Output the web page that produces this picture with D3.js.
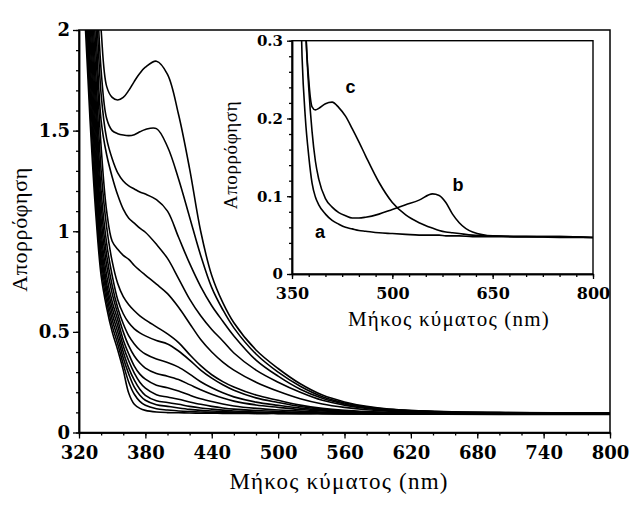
<!DOCTYPE html>
<html><head><meta charset="utf-8">
<script src="https://cdn.jsdelivr.net/npm/d3@7"></script>
<style>body{margin:0;background:#fff}svg{display:block}</style>
</head><body>
<svg id="chart" width="635" height="512"></svg>
<script>
// ---------- main chart data ----------
const wavelengths = [320, 325, 330, 335, 340, 345, 350, 355, 360, 365, 370, 375, 380, 390, 400, 410, 420, 430, 440, 450, 460, 480, 500, 520, 540, 560, 580, 600, 650, 700, 750, 800];

const curve01 = [2.7, 2.1, 1.55, 1.1, 0.78, 0.62, 0.5, 0.41, 0.31, 0.195, 0.14, 0.12, 0.11, 0.102, 0.099, 0.098, 0.097, 0.096, 0.096, 0.095, 0.095, 0.094, 0.094, 0.093, 0.093, 0.092, 0.092, 0.091, 0.091, 0.09, 0.09, 0.09];
const curve02 = [2.8, 2.2, 1.62, 1.16, 0.82, 0.65, 0.53, 0.44, 0.34, 0.25, 0.19, 0.155, 0.135, 0.118, 0.112, 0.107, 0.104, 0.102, 0.1, 0.099, 0.098, 0.096, 0.095, 0.094, 0.094, 0.093, 0.093, 0.092, 0.092, 0.091, 0.091, 0.091];
const curve03 = [2.9, 2.3, 1.7, 1.22, 0.86, 0.68, 0.56, 0.47, 0.37, 0.29, 0.225, 0.185, 0.16, 0.138, 0.13, 0.122, 0.115, 0.11, 0.107, 0.104, 0.102, 0.099, 0.097, 0.096, 0.095, 0.094, 0.094, 0.093, 0.092, 0.092, 0.091, 0.091];
const curve04 = [3.0, 2.4, 1.78, 1.29, 0.9, 0.71, 0.59, 0.5, 0.4, 0.32, 0.26, 0.215, 0.185, 0.158, 0.149, 0.14, 0.13, 0.122, 0.116, 0.111, 0.107, 0.102, 0.099, 0.097, 0.096, 0.095, 0.094, 0.093, 0.093, 0.092, 0.092, 0.091];
const curve05 = [3.1, 2.5, 1.86, 1.36, 0.95, 0.74, 0.62, 0.53, 0.43, 0.355, 0.295, 0.25, 0.22, 0.188, 0.176, 0.165, 0.152, 0.14, 0.13, 0.122, 0.116, 0.109, 0.104, 0.1, 0.098, 0.096, 0.095, 0.094, 0.093, 0.093, 0.092, 0.092];
const curve06 = [3.2, 2.6, 1.95, 1.44, 1.0, 0.78, 0.65, 0.56, 0.46, 0.39, 0.33, 0.29, 0.265, 0.235, 0.222, 0.206, 0.186, 0.168, 0.154, 0.142, 0.132, 0.12, 0.112, 0.106, 0.101, 0.098, 0.096, 0.095, 0.094, 0.093, 0.093, 0.092];
const curve07 = [3.3, 2.7, 2.04, 1.52, 1.06, 0.83, 0.69, 0.59, 0.5, 0.43, 0.38, 0.345, 0.32, 0.293, 0.28, 0.263, 0.238, 0.212, 0.19, 0.171, 0.156, 0.137, 0.125, 0.114, 0.107, 0.102, 0.099, 0.097, 0.095, 0.094, 0.093, 0.093];
const curve08 = [3.4, 2.8, 2.14, 1.61, 1.13, 0.88, 0.73, 0.62, 0.54, 0.48, 0.44, 0.41, 0.39, 0.365, 0.348, 0.325, 0.29, 0.252, 0.222, 0.197, 0.177, 0.151, 0.135, 0.121, 0.111, 0.104, 0.1, 0.098, 0.096, 0.095, 0.094, 0.093];
const curve09 = [3.5, 2.9, 2.24, 1.7, 1.2, 0.94, 0.78, 0.66, 0.59, 0.545, 0.515, 0.495, 0.48, 0.457, 0.44, 0.405, 0.36, 0.31, 0.27, 0.237, 0.21, 0.172, 0.149, 0.129, 0.115, 0.107, 0.102, 0.099, 0.097, 0.095, 0.094, 0.094];
const curve10 = [3.6, 3.0, 2.35, 1.8, 1.3, 1.02, 0.85, 0.74, 0.675, 0.635, 0.605, 0.58, 0.56, 0.525, 0.49, 0.447, 0.387, 0.332, 0.287, 0.253, 0.226, 0.186, 0.16, 0.136, 0.12, 0.11, 0.104, 0.1, 0.097, 0.096, 0.095, 0.094];
const curve11 = [3.7, 3.1, 2.46, 1.92, 1.42, 1.1, 0.95, 0.91, 0.88, 0.86, 0.83, 0.805, 0.782, 0.737, 0.69, 0.622, 0.542, 0.462, 0.4, 0.35, 0.31, 0.25, 0.205, 0.168, 0.142, 0.125, 0.113, 0.106, 0.099, 0.097, 0.095, 0.094];
const curve12 = [3.8, 3.2, 2.58, 2.05, 1.55, 1.38, 1.27, 1.18, 1.11, 1.065, 1.04, 1.015, 0.995, 0.935, 0.865, 0.765, 0.663, 0.58, 0.512, 0.455, 0.395, 0.31, 0.25, 0.2, 0.16, 0.136, 0.12, 0.11, 0.101, 0.098, 0.096, 0.095];
const curve13 = [3.9, 3.3, 2.7, 2.2, 1.68, 1.46, 1.36, 1.29, 1.25, 1.225, 1.21, 1.195, 1.185, 1.157, 1.1, 0.97, 0.84, 0.725, 0.63, 0.553, 0.48, 0.36, 0.28, 0.215, 0.17, 0.142, 0.124, 0.113, 0.102, 0.098, 0.097, 0.096];
const curve14 = [4.0, 3.45, 2.85, 2.35, 1.8, 1.56, 1.5, 1.485, 1.478, 1.475, 1.48, 1.494, 1.506, 1.51, 1.42, 1.26, 1.07, 0.88, 0.72, 0.61, 0.52, 0.39, 0.3, 0.23, 0.178, 0.147, 0.127, 0.115, 0.103, 0.099, 0.097, 0.096];
const curve15 = [4.2, 3.6, 3.0, 2.5, 2.0, 1.72, 1.665, 1.652, 1.665, 1.7, 1.745, 1.785, 1.815, 1.845, 1.78, 1.58, 1.31, 1.0, 0.78, 0.645, 0.545, 0.41, 0.318, 0.242, 0.186, 0.152, 0.13, 0.117, 0.104, 0.1, 0.098, 0.097];
const mainSeries = [curve01, curve02, curve03, curve04, curve05, curve06, curve07, curve08, curve09, curve10, curve11, curve12, curve13, curve14, curve15];

const mainXTicks = [320, 380, 440, 500, 560, 620, 680, 740, 800];
const mainYTicks = [0, 0.5, 1, 1.5, 2];
const mainYTickLabels = ["0", "0.5", "1", "1.5", "2"];

// ---------- inset data ----------
const insetWavelengths = [350, 360, 365, 370, 375, 380, 385, 390, 400, 410, 420, 430, 440, 450, 460, 480, 500, 520, 540, 560, 570, 580, 590, 600, 620, 650, 700, 750, 800];
const insetA = [1.0, 0.45, 0.28, 0.2, 0.152, 0.117, 0.099, 0.089, 0.077, 0.069, 0.064, 0.06, 0.058, 0.056, 0.055, 0.053, 0.052, 0.051, 0.05, 0.05, 0.05, 0.049, 0.049, 0.049, 0.048, 0.048, 0.048, 0.047, 0.047];
const insetB = [2.0, 0.9, 0.55, 0.33, 0.24, 0.183, 0.145, 0.122, 0.097, 0.086, 0.079, 0.075, 0.072, 0.072, 0.073, 0.077, 0.083, 0.089, 0.095, 0.103, 0.101, 0.092, 0.077, 0.066, 0.054, 0.049, 0.048, 0.048, 0.047];
const insetC = [2.0, 0.9, 0.55, 0.33, 0.25, 0.215, 0.211, 0.213, 0.219, 0.221, 0.214, 0.203, 0.187, 0.17, 0.152, 0.118, 0.092, 0.076, 0.066, 0.059, 0.056, 0.054, 0.053, 0.052, 0.05, 0.049, 0.048, 0.048, 0.047];
const insetSeries = [insetA, insetB, insetC];
const insetLabels = ["a", "b", "c"];
const insetLabelAt = [[392, 0.046], [598, 0.107], [437.5, 0.233]]; // [wavelength, absorbance] of the letters

const insetXTicks = [350, 500, 650, 800];
const insetYTicks = [0, 0.1, 0.2, 0.3];
const insetYTickLabels = ["0", "0.1", "0.2", "0.3"];

const yTitle = "Απορρόφηση";
const xTitle = "Μήκος κύματος (nm)";

// ---------- drawing ----------
const svg = d3.select("#chart");
const tickFont = "'DejaVu Serif', serif";
const titleFont = "'Liberation Serif', 'Times New Roman', serif";

const x = d3.scaleLinear().domain([320, 800]).range([79, 610]);
const y = d3.scaleLinear().domain([0, 2]).range([432.5, 30]);

const defs = svg.append("defs");
defs.append("clipPath").attr("id", "mainClip").append("rect")
  .attr("x", x(320)).attr("y", y(2)).attr("width", x(800) - x(320)).attr("height", y(0) - y(2));

const mainLine = d3.line()
  .x((d, i) => x(wavelengths[i]))
  .y(d => y(d))
  .curve(d3.curveCatmullRom.alpha(0.5));

svg.append("g").attr("clip-path", "url(#mainClip)")
  .selectAll("path").data(mainSeries).join("path")
  .attr("d", mainLine).attr("fill", "none").attr("stroke", "#000")
  .attr("stroke-width", 1.6).attr("stroke-linejoin", "round");

// frame
svg.append("rect").attr("x", x(320)).attr("y", y(2))
  .attr("width", x(800) - x(320)).attr("height", y(0) - y(2))
  .attr("fill", "none").attr("stroke", "#000").attr("stroke-width", 1.5);

function styleAxis(g, size) {
  g.selectAll("path.domain").attr("stroke", "#000").attr("stroke-width", 1.5);
  g.selectAll(".tick line").attr("stroke", "#000").attr("stroke-width", 1.3);
  g.selectAll("text").attr("font-family", tickFont).attr("font-weight", "bold")
    .attr("font-size", size).attr("fill", "#000");
}

// minor ticks
svg.append("g").attr("transform", `translate(0,${y(0)})`)
  .call(d3.axisBottom(x).tickValues(d3.range(320, 801, 20)).tickSize(3).tickSizeOuter(0).tickFormat(""))
  .call(g => styleAxis(g, 18));
svg.append("g").attr("transform", `translate(${x(320)},0)`)
  .call(d3.axisLeft(y).tickValues(d3.range(0, 21).map(v => v / 10)).tickSize(3).tickSizeOuter(0).tickFormat(""))
  .call(g => styleAxis(g, 18));

svg.append("g").attr("transform", `translate(0,${y(0)})`)
  .call(d3.axisBottom(x).tickValues(mainXTicks).tickSize(6).tickPadding(8).tickSizeOuter(0).tickFormat(d3.format("d")))
  .call(g => styleAxis(g, 18));
svg.append("g").attr("transform", `translate(${x(320)},0)`)
  .call(d3.axisLeft(y).tickValues(mainYTicks).tickSize(6).tickPadding(3).tickSizeOuter(0)
    .tickFormat((d, i) => mainYTickLabels[i]))
  .call(g => styleAxis(g, 18));

svg.append("text").attr("x", 339).attr("y", 489).attr("text-anchor", "middle")
  .attr("font-family", titleFont).attr("font-size", 23).attr("letter-spacing", 1.2)
  .text(xTitle);
svg.append("text").attr("transform", "translate(27,229.5) rotate(-90)").attr("text-anchor", "middle")
  .attr("font-family", titleFont).attr("font-size", 22).attr("letter-spacing", 0.6)
  .text(yTitle);

// ---------- inset ----------
const ix = d3.scaleLinear().domain([350, 800]).range([292, 593]);
const iy = d3.scaleLinear().domain([0, 0.3]).range([274, 40.7]);

svg.append("rect").attr("x", ix(350)).attr("y", iy(0.3))
  .attr("width", ix(800) - ix(350)).attr("height", iy(0) - iy(0.3))
  .attr("fill", "#fff").attr("stroke", "none");

defs.append("clipPath").attr("id", "insetClip").append("rect")
  .attr("x", ix(350)).attr("y", iy(0.3)).attr("width", ix(800) - ix(350)).attr("height", iy(0) - iy(0.3));

const insetLine = d3.line()
  .x((d, i) => ix(insetWavelengths[i]))
  .y(d => iy(d))
  .curve(d3.curveMonotoneX);

svg.append("g").attr("clip-path", "url(#insetClip)")
  .selectAll("path").data(insetSeries).join("path")
  .attr("d", insetLine).attr("fill", "none").attr("stroke", "#000")
  .attr("stroke-width", 1.6).attr("stroke-linejoin", "round");

svg.append("rect").attr("x", ix(350)).attr("y", iy(0.3))
  .attr("width", ix(800) - ix(350)).attr("height", iy(0) - iy(0.3))
  .attr("fill", "none").attr("stroke", "#000").attr("stroke-width", 1.4);

svg.append("g").attr("transform", `translate(0,${iy(0)})`)
  .call(d3.axisBottom(ix).tickValues(d3.range(350, 801, 25)).tickSize(3).tickSizeOuter(0).tickFormat(""))
  .call(g => styleAxis(g, 16));
svg.append("g").attr("transform", `translate(${ix(350)},0)`)
  .call(d3.axisLeft(iy).tickValues(d3.range(0, 16).map(v => v * 0.02)).tickSize(3).tickSizeOuter(0).tickFormat(""))
  .call(g => styleAxis(g, 16));
svg.append("g").attr("transform", `translate(0,${iy(0)})`)
  .call(d3.axisBottom(ix).tickValues(insetXTicks).tickSize(5).tickPadding(9).tickSizeOuter(0).tickFormat(d3.format("d")))
  .call(g => styleAxis(g, 16));
svg.append("g").attr("transform", `translate(${ix(350)},0)`)
  .call(d3.axisLeft(iy).tickValues(insetYTicks).tickSize(5).tickPadding(4).tickSizeOuter(0)
    .tickFormat((d, i) => insetYTickLabels[i]))
  .call(g => styleAxis(g, 15));

svg.append("text").attr("x", 449).attr("y", 326).attr("text-anchor", "middle")
  .attr("font-family", titleFont).attr("font-size", 21).attr("letter-spacing", 1.2)
  .text(xTitle);
svg.append("text").attr("transform", "translate(237,155) rotate(-90)").attr("text-anchor", "middle")
  .attr("font-family", titleFont).attr("font-size", 19).attr("letter-spacing", 0.6)
  .text(yTitle);

svg.append("g").selectAll("text").data(insetLabels).join("text")
  .attr("x", (d, i) => ix(insetLabelAt[i][0]))
  .attr("y", (d, i) => iy(insetLabelAt[i][1]))
  .attr("text-anchor", "middle")
  .attr("font-family", "'Liberation Sans', Arial, sans-serif").attr("font-weight", "bold")
  .attr("font-size", 18).text(d => d);
</script>
</body></html>
